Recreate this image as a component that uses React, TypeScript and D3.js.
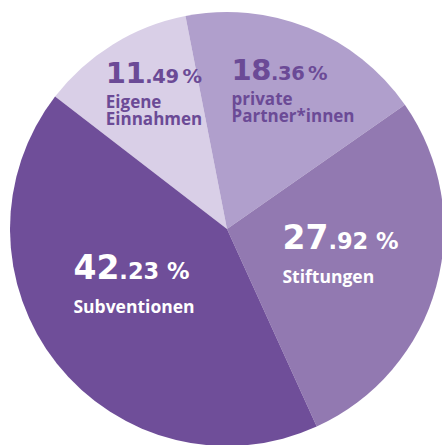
import { useEffect, useRef } from "react";
import * as d3 from "d3";

// Anteile der Finanzierung (in %)
const categories = ["Eigene Einnahmen", "private Partner*innen", "Stiftungen", "Subventionen"];
const labelLines = [["Eigene", "Einnahmen"], ["private", "Partner*innen"], ["Stiftungen"], ["Subventionen"]];
const shares = [11.49, 18.36, 27.92, 42.23];

const colors = ["#d9cfe7", "#b09fcc", "#9279b1", "#6f4e99"];
const textColors = ["#6b4a96", "#6b4a96", "#ffffff", "#ffffff"];
const labelKind = ["small", "small", "large", "large"];
const labelRadius = [0.709, 0.709, 0.536, 0.498];
const labelNudge = [3.4, 3.4, -2.8, 7.8]; // degrees

const W = 442, H = 445;
const cx = 227, cy = 229, R = 217;
const startDeg = -52.4;

const numFont = "'DejaVu Sans', sans-serif";
const txtFont = "'Open Sans', sans-serif";

export default function App() {
  const ref = useRef<SVGSVGElement>(null);

  useEffect(() => {
    const svg = d3.select(ref.current);
    svg.selectAll("*").remove();
    const g = svg.append("g").attr("transform", `translate(${cx},${cy})`);

    const start = (startDeg * Math.PI) / 180;
    const pie = d3.pie<number>().sort(null).value((d) => d)
      .startAngle(start).endAngle(start + 2 * Math.PI);
    const arcs = pie(shares);
    const arc = d3.arc<d3.PieArcDatum<number>>().innerRadius(0).outerRadius(R);

    g.selectAll("path.slice")
      .data(arcs)
      .enter()
      .append("path")
      .attr("class", "slice")
      .attr("d", arc)
      .attr("fill", (d, i) => colors[i])
      .append("title")
      .text((d, i) => `${categories[i]}: ${shares[i]} %`);

    arcs.forEach((a, i) => {
      const big = labelKind[i] === "large";
      const numSize = big ? 33 : 29;
      const decSize = big ? 22.5 : 19.5;
      const lineSize = big ? 17.5 : 17;
      const firstLine = big ? 34 : 25;
      const lineGap = big ? 17 : 17;
      const sep = big ? " " : "\u2009";

      const lab = g.append("g").attr("fill", textColors[i]);
      const [intPart, decPart] = shares[i].toFixed(2).split(".");
      const t = lab.append("text")
        .attr("x", 0).attr("y", 0)
        .attr("font-family", numFont)
        .attr("font-weight", 700);
      t.append("tspan").attr("font-size", numSize).attr("letter-spacing", big ? 0 : -0.5).text(intPart);
      t.append("tspan").attr("font-size", decSize).attr("letter-spacing", big ? 0 : -0.3).text(`.${decPart}${sep}%`);

      let lastBase = 0;
      labelLines[i].forEach((line, j) => {
        lastBase = firstLine + j * lineGap;
        lab.append("text")
          .attr("x", 0)
          .attr("y", lastBase)
          .attr("font-family", txtFont)
          .attr("font-weight", 700)
          .attr("font-size", lineSize)
          .text(line);
      });

      const bb = (lab.node() as SVGGElement).getBBox();
      const top = -0.729 * numSize;
      const midY = (top + lastBase) / 2;
      const ang = (a.startAngle + a.endAngle) / 2 + (labelNudge[i] * Math.PI) / 180;
      const r = R * labelRadius[i];
      const px = Math.sin(ang) * r;
      const py = -Math.cos(ang) * r;
      lab.attr("transform", `translate(${px - bb.x - bb.width / 2},${py - midY})`);
    });
  }, []);

  return (
    <svg
      ref={ref}
      width={W}
      height={H}
      style={{ position: "absolute", left: 0, top: 0, background: "#fff", overflow: "hidden" }}
    />
  );
}
